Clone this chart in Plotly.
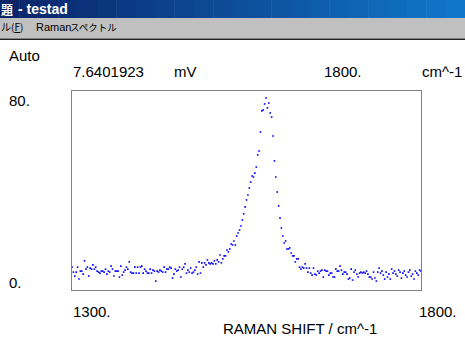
import plotly.graph_objects as go

# ---- data ----
shift_start, shift_stop, shift_step = 1300, 1800, 2
base_left = [9.2, 7.2, 5.6, 7.2, 9.2, 4.4, 7.6, 7.6, 6.4, 11.7,
             8.4, 9.2, 5.6, 8.8, 8.4, 10.1, 8.4, 9.2, 7.6, 7.2,
             6.8, 7.6, 7.6, 7.2, 8.4, 6.4, 7.6, 7.2, 9.6, 8.4,
             5.6, 7.6, 7.6, 7.6, 5.2, 9.6, 6.0, 7.2, 8.0, 9.2,
             8.4, 11.3, 7.2, 6.8, 6.8, 9.2, 6.8, 9.2, 6.8, 9.2,
             9.6, 6.8, 8.4, 7.6, 6.8, 6.8, 8.4, 6.8, 8.0, 7.6,
             3.6, 7.6, 7.2, 8.0, 7.6, 7.2, 9.2, 7.2, 8.4, 8.4,
             9.2, 8.8, 4.8, 6.4, 8.4, 7.6, 8.0, 9.2, 5.2, 8.4,
             9.2, 10.5, 6.8, 8.0, 7.2, 8.8]
rise = [6.8, 7.2, 8.0, 9.2, 6.4, 11.3, 6.8, 10.9, 9.2, 10.9,
        10.1, 12.1, 10.9, 10.5, 10.9, 10.5, 11.7, 10.5, 12.1, 11.3,
        14.1, 10.9, 12.5, 13.7, 13.7, 16.1, 15.3, 16.5, 18.5, 18.1,
        19.7, 18.1, 21.7, 22.9, 24.1, 25.7, 28.1, 30.6, 33.4, 36.2,
        38.2, 41.0]
peak = [43.4, 45.8, 45.4, 47.0, 49.4, 54.3, 55.9, 63.5, 72.0, 72.4,
        74.8, 77.2, 73.2, 75.2, 71.2, 69.5, 61.9, 51.9, 45.4, 39.4,
        33.8, 28.9, 24.9, 21.7]
base_right = [18.9, 19.7, 16.5, 16.5, 16.9, 14.9, 13.7, 13.7, 11.3, 12.5,
              12.5, 9.2, 8.4, 9.2, 8.8, 10.5, 8.8, 7.2, 8.8, 6.8,
              6.0, 8.8, 6.4, 6.0, 7.6, 6.8, 7.6, 8.0, 5.2, 8.0,
              7.6, 7.6, 6.0, 6.8, 6.8, 5.2, 5.2, 8.4, 7.6, 7.6,
              9.6, 8.0, 6.4, 7.2, 7.2, 6.4, 4.4, 4.8, 8.4, 4.0,
              7.2, 8.0, 6.4, 5.2, 6.8, 7.2, 6.8, 7.2, 6.8, 7.6,
              6.4, 5.2, 5.2, 4.4, 7.2, 4.8, 3.6, 7.2, 8.8, 6.8,
              7.6, 6.0, 4.4, 7.2, 5.2, 6.4, 4.4, 8.4, 6.8, 7.6,
              6.4, 5.6, 8.0, 7.2, 4.8, 6.8, 7.6, 6.0, 5.2, 7.2,
              8.0, 5.6, 6.4, 4.4, 7.6, 6.8, 6.0, 8.0, 7.6]
intensity = base_left + rise + peak + base_right
raman_shift = list(range(shift_start, shift_start + shift_step * len(intensity), shift_step))
y_min, y_max = 0, 80

# ---- geometry helpers (decoration only) ----
W, H = 465, 348
L, R, T, B = 72, 421, 91, 290


def px(x):
    return (x - L) / (R - L)


def py(y):
    return (B - y) / (B - T)


fig = go.Figure()
fig.add_trace(go.Scatter(
    x=raman_shift, y=intensity, mode="markers",
    marker=dict(symbol="square", size=1.6, color="#0000ff", line=dict(width=0)),
    hoverinfo="skip", cliponaxis=False))

shapes = []
# title bar gradient
n = 24
c0, c1 = (10, 36, 106), (16, 118, 200)
for i in range(n):
    t = i / (n - 1)
    col = "rgb(%d,%d,%d)" % tuple(round(a + (b - a) * t) for a, b in zip(c0, c1))
    shapes.append(dict(type="rect", xref="paper", yref="paper",
                       x0=px(W * i / n), x1=px(W * (i + 1) / n + 0.5),
                       y0=py(0), y1=py(18), fillcolor=col, line=dict(width=0), layer="below"))
# menu bar
shapes.append(dict(type="rect", xref="paper", yref="paper", x0=px(0), x1=px(W),
                   y0=py(18), y1=py(38), fillcolor="#c0c0c0", line=dict(width=0), layer="below"))
shapes.append(dict(type="rect", xref="paper", yref="paper", x0=px(0), x1=px(W),
                   y0=py(38), y1=py(39), fillcolor="#808080", line=dict(width=0), layer="below"))
shapes.append(dict(type="rect", xref="paper", yref="paper", x0=px(0), x1=px(W),
                   y0=py(39), y1=py(40), fillcolor="#202020", line=dict(width=0), layer="below"))

FONT = "Liberation Sans, Arial, sans-serif"
ann = []


def label(text, x, y, size=15, color="black", family=FONT):
    ann.append(dict(text=text, x=px(x), y=py(y), xref="paper", yref="paper",
                    xanchor="left", yanchor="middle", showarrow=False,
                    font=dict(size=size, color=color, family=family)))


CJK = "Noto Sans CJK JP, sans-serif"
label("<b>題</b>", -1, 9, size=12, color="white", family=CJK)
label("<b>- testad</b>", 16, 9, size=14, color="white", family=FONT)
label("ル(<u>F</u>)", -1, 27, size=10, family=CJK)
label("Raman", 34, 27, size=11, family=FONT)
label("スペクトル", 68, 27, size=9.5, family=CJK)
label("Auto", 7, 55)
label("7.6401923", 71, 71)
label("mV", 172, 71)
label("1800.", 322, 71)
label("cm^-1", 420, 71)
label("80.", 7, 100)
label("0.", 7, 282)
label("1300.", 71, 311)
label("1800.", 417, 311)
label("RAMAN SHIFT / cm^-1", 221, 328)

fig.update_layout(
    width=W, height=H, margin=dict(l=L, r=W - R, t=T, b=H - B, pad=0),
    paper_bgcolor="white", plot_bgcolor="white", showlegend=False,
    shapes=shapes, annotations=ann,
    xaxis=dict(range=[shift_start, shift_stop], showgrid=False, zeroline=False,
               showticklabels=False, ticks="", showline=True, mirror=True,
               linecolor="#808080", linewidth=1, fixedrange=True),
    yaxis=dict(range=[y_min, y_max], showgrid=False, zeroline=False,
               showticklabels=False, ticks="", showline=True, mirror=True,
               linecolor="#808080", linewidth=1, fixedrange=True),
)
fig.write_html("out.html", config={"displayModeBar": False})
